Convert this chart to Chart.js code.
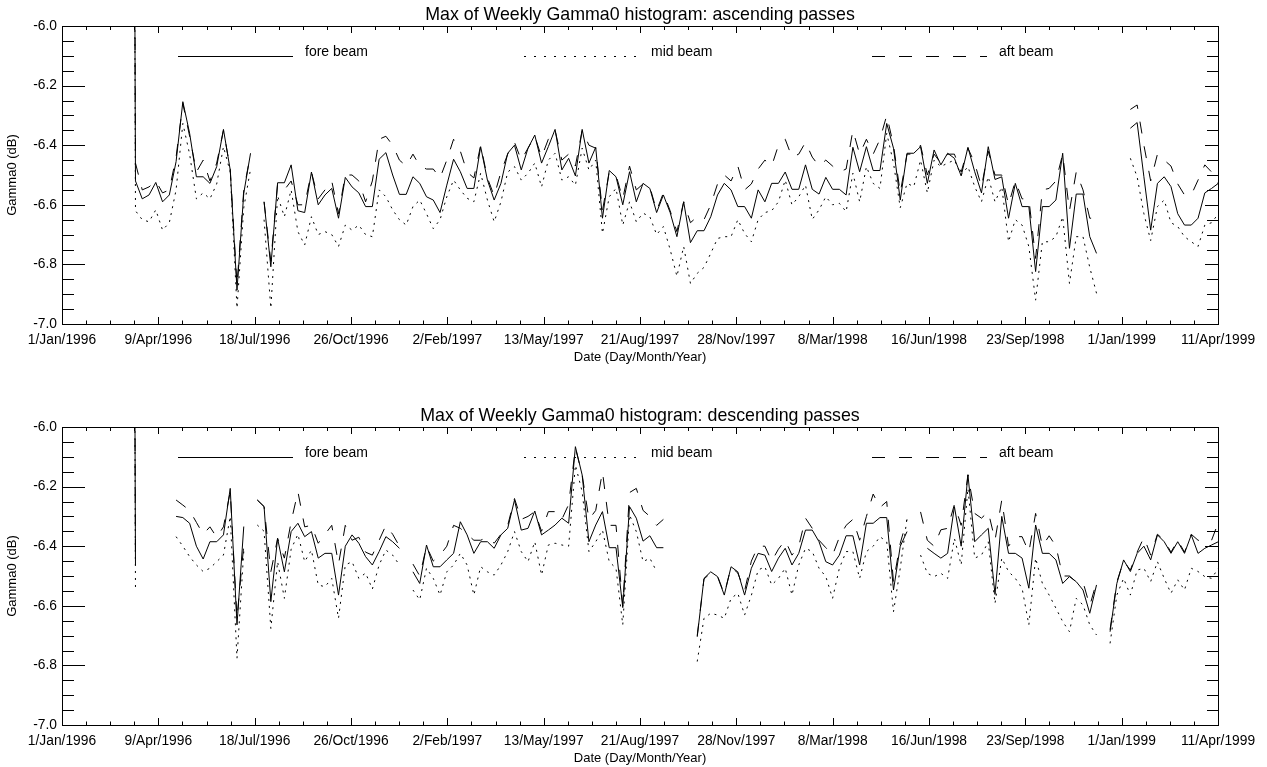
<!DOCTYPE html>
<html>
<head>
<meta charset="utf-8">
<script src="https://cdn.jsdelivr.net/npm/chart.js"></script>
<style>
  body { margin: 0; background: #fff; }
  #wrap { position: relative; width: 1267px; height: 767px; }
  canvas { position: absolute; left: 0; }
</style>
</head>
<body>
<div id="wrap">
  <canvas id="ascChart" width="1267" height="384" style="top:0"></canvas>
  <canvas id="descChart" width="1267" height="383" style="top:384px"></canvas>
</div>
<script>
// weekly maxima, one value per week starting at firstWeek (null = no data)
const axisStart = '1996-01-01';
const firstWeek = '1996-03-10';
const tickLabels = ['1/Jan/1996', '9/Apr/1996', '18/Jul/1996', '26/Oct/1996', '2/Feb/1997', '13/May/1997',
  '21/Aug/1997', '28/Nov/1997', '8/Mar/1998', '16/Jun/1998', '23/Sep/1998', '1/Jan/1999', '11/Apr/1999'];
const yTicks = [-7.0, -6.8, -6.6, -6.4, -6.2, -6.0];
const beamNames = ['fore beam', 'mid beam', 'aft beam'];

const ascFore = [
  0, -6.52, -6.58, -6.567, -6.525, -6.59, -6.567, -6.455, -6.254, -6.36,
  -6.506, -6.506, -6.528, -6.472, -6.347, -6.483, -6.886, -6.561, -6.427, null,
  -6.59, -6.808, -6.526, -6.526, -6.466, -6.62, -6.626, -6.49, -6.60, -6.567,
  -6.545, -6.645, -6.508, -6.54, -6.56, -6.606, -6.606, -6.447, -6.425, -6.50,
  -6.565, -6.565, -6.506, -6.528, -6.573, -6.584, -6.626, -6.534, -6.447, -6.489,
  -6.545, -6.545, -6.405, -6.517, -6.584, -6.528, -6.427, -6.40, -6.483, -6.41,
  -6.366, -6.46, -6.405, -6.347, -6.483, -6.444, -6.503, -6.347, -6.46, -6.407,
  -6.645, -6.485, -6.506, -6.60, -6.489, -6.59, -6.528, -6.545, -6.626, -6.567,
  -6.626, -6.707, -6.59, -6.727, -6.687, -6.687, -6.64, -6.567, -6.528, -6.55,
  -6.606, -6.606, -6.645, -6.55, -6.59, -6.528, -6.528, -6.49, -6.548, -6.548,
  -6.466, -6.548, -6.564, -6.508, -6.548, -6.548, -6.567, -6.407, -6.489, -6.405,
  -6.485, -6.485, -6.327, -6.41, -6.584, -6.427, -6.427, -6.405, -6.528, -6.416,
  -6.466, -6.427, -6.444, -6.503, -6.407, -6.489, -6.56, -6.405, -6.515, -6.506,
  -6.645, -6.528, -6.606, -6.606, -6.824, -6.606, -6.606, -6.584, -6.427, -6.746,
  -6.564, -6.564, -6.707, -6.763, null, null, null, null, -6.343, -6.324,
  -6.506, -6.685, -6.528, -6.506, -6.539, -6.63, -6.668, -6.668, -6.645, -6.56,
  -6.545, -6.528
];
const ascMid = [
  0, -6.62, -6.65, -6.657, -6.617, -6.685, -6.66, -6.55, -6.327, -6.43,
  -6.58, -6.56, -6.58, -6.53, -6.405, -6.49, -6.947, -6.61, -6.48, null,
  -6.65, -6.947, -6.57, -6.64, -6.55, -6.69, -6.735, -6.64, -6.70, -6.69,
  -6.70, -6.74, -6.668, -6.685, -6.668, -6.70, -6.707, -6.55, -6.573, -6.617,
  -6.65, -6.668, -6.606, -6.584, -6.63, -6.68, -6.65, -6.573, -6.517, -6.55,
  -6.578, -6.59, -6.494, -6.584, -6.657, -6.59, -6.49, -6.472, -6.517, -6.494,
  -6.46, -6.54, -6.45, -6.427, -6.517, -6.506, -6.534, -6.41, -6.483, -6.45,
  -6.696, -6.573, -6.545, -6.668, -6.59, -6.657, -6.628, -6.64, -6.70, -6.673,
  -6.75, -6.84, -6.74, -6.864, -6.83, -6.81, -6.763, -6.713, -6.707, -6.707,
  -6.65, -6.696, -6.724, -6.65, -6.626, -6.62, -6.59, -6.517, -6.60, -6.573,
  -6.534, -6.649, -6.617, -6.573, -6.60, -6.595, -6.623, -6.494, -6.59, -6.472,
  -6.528, -6.545, -6.36, -6.46, -6.61, -6.528, -6.539, -6.45, -6.56, -6.45,
  -6.472, -6.46, -6.45, -6.50, -6.472, -6.539, -6.59, -6.506, -6.59, -6.54,
  -6.724, -6.65, -6.668, -6.74, -6.92, -6.724, -6.724, -6.707, -6.64, -6.864,
  -6.707, -6.707, -6.81, -6.897, null, null, null, null, -6.444, -6.506,
  -6.63, -6.72, -6.606, -6.584, -6.66, -6.673, -6.707, -6.724, -6.74, -6.668,
  -6.66, -6.63
];
const ascAft = [
  0, -6.46, -6.55, -6.54, -6.52, -6.56, -6.55, -6.44, -6.26, -6.37,
  -6.49, -6.45, -6.52, -6.46, -6.35, -6.48, -6.87, -6.55, -6.43, null,
  -6.59, -6.79, -6.53, -6.55, -6.52, -6.60, -6.60, -6.49, -6.58, -6.55,
  -6.52, -6.63, -6.50, -6.50, -6.52, -6.59, -6.52, -6.38, -6.37, -6.40,
  -6.45, -6.47, -6.43, -6.47, -6.48, -6.48, -6.51, -6.45, -6.38, -6.42,
  -6.49, -6.51, -6.40, -6.51, -6.57, -6.49, -6.43, -6.39, -6.45, -6.41,
  -6.37, -6.44, -6.38, -6.35, -6.45, -6.43, -6.47, -6.35, -6.40, -6.41,
  -6.62, -6.49, -6.50, -6.58, -6.47, -6.55, -6.53, -6.54, -6.62, -6.56,
  -6.62, -6.69, -6.59, -6.66, -6.64, -6.65, -6.60, -6.53, -6.50, -6.52,
  -6.47, -6.55, -6.53, -6.48, -6.45, -6.47, -6.40, -6.38, -6.44, -6.43,
  -6.39, -6.44, -6.47, -6.45, -6.47, -6.49, -6.48, -6.35, -6.43, -6.38,
  -6.43, -6.38, -6.30, -6.40, -6.56, -6.43, -6.43, -6.40, -6.50, -6.43,
  -6.46, -6.43, -6.43, -6.49, -6.41, -6.46, -6.54, -6.42, -6.50, -6.50,
  -6.60, -6.52, -6.58, -6.58, -6.78, -6.55, -6.545, -6.52, -6.43, -6.62,
  -6.49, -6.55, -6.645, -6.645, null, null, null, null, -6.28, -6.265,
  -6.40, -6.52, -6.43, -6.45, -6.47, -6.53, -6.567, -6.567, -6.517, -6.466,
  -6.49, -6.53
];

const descFore = [
  0, -6.463, null, null, null, null, null, -6.30, -6.304, -6.323,
  -6.40, -6.443, -6.385, -6.385, -6.362, -6.206, -6.664, -6.334, null, -6.245,
  -6.267, -6.586, -6.374, -6.486, -6.351, -6.323, -6.368, -6.351, -6.44, -6.424,
  -6.424, -6.564, -6.40, -6.362, -6.39, -6.435, -6.463, -6.418, -6.368, -6.385,
  -6.407, null, -6.486, -6.525, -6.396, -6.469, -6.469, -6.446, -6.424, -6.318,
  -6.362, -6.424, -6.385, -6.385, -6.407, -6.362, -6.34, -6.245, -6.346, -6.34,
  -6.282, -6.362, -6.346, -6.329, -6.306, -6.323, -6.066, -6.161, -6.385, -6.329,
  -6.284, -6.405, -6.405, -6.606, -6.267, -6.306, -6.383, -6.365, -6.405, -6.405,
  null, null, null, null, -6.704, -6.508, -6.486, -6.502, -6.564, -6.469,
  -6.486, -6.564, -6.474, -6.424, -6.43, -6.485, -6.44, -6.407, -6.463, -6.424,
  -6.346, -6.346, -6.385, -6.452, -6.463, -6.43, -6.365, -6.365, -6.463, -6.323,
  -6.323, -6.304, -6.304, -6.547, -6.40, -6.351, null, null, -6.407, -6.424,
  -6.44, -6.424, -6.267, -6.40, -6.161, -6.385, -6.362, -6.34, -6.562, -6.30,
  -6.424, -6.424, -6.44, -6.541, -6.329, -6.424, -6.424, -6.446, -6.525, -6.502,
  -6.519, -6.547, -6.625, -6.53, null, -6.687, -6.525, -6.446, -6.485, -6.424,
  -6.40, -6.446, -6.362, -6.385, -6.424, -6.385, -6.424, -6.362, -6.424, -6.407,
  -6.396, -6.385
];
const descMid = [
  0, -6.553, null, null, null, null, null, -6.368, -6.40, -6.435,
  -6.463, -6.485, -6.474, -6.452, -6.43, -6.30, -6.776, -6.418, null, -6.329,
  -6.35, -6.676, -6.452, -6.575, -6.41, -6.36, -6.452, -6.413, -6.53, -6.536,
  -6.508, -6.642, -6.463, -6.452, -6.508, -6.49, -6.544, -6.463, -6.413, -6.43,
  -6.463, null, -6.547, -6.58, -6.474, -6.508, -6.564, -6.486, -6.463, -6.424,
  -6.463, -6.564, -6.469, -6.486, -6.497, -6.463, -6.418, -6.351, -6.418, -6.452,
  -6.385, -6.497, -6.396, -6.39, -6.396, -6.40, -6.128, -6.217, -6.418, -6.385,
  -6.346, -6.452, -6.474, -6.664, -6.295, -6.351, -6.452, -6.44, -6.485, null,
  null, null, null, null, -6.787, -6.642, -6.625, -6.631, -6.642, -6.575,
  -6.558, -6.631, -6.565, -6.48, -6.469, -6.53, -6.508, -6.474, -6.564, -6.463,
  -6.407, -6.418, -6.474, -6.502, -6.575, -6.474, -6.418, -6.418, -6.508, -6.418,
  -6.40, -6.368, -6.385, -6.62, -6.474, -6.306, null, -6.43, -6.491, -6.502,
  -6.491, -6.508, -6.374, -6.463, -6.206, -6.44, -6.43, -6.385, -6.592, -6.44,
  -6.485, -6.508, -6.541, -6.664, -6.44, -6.525, -6.564, -6.608, -6.653, -6.687,
  -6.575, -6.597, -6.664, -6.698, null, -6.726, -6.564, -6.508, -6.564, -6.48,
  -6.474, -6.519, -6.452, -6.508, -6.558, -6.513, -6.547, -6.474, -6.485, -6.502,
  -6.508, -6.474
];
const descAft = [
  0, -6.45, null, null, null, null, null, -6.245, -6.262, -6.28,
  -6.32, -6.36, -6.335, -6.37, -6.335, -6.217, -6.642, -6.396, null, -6.245,
  -6.267, -6.486, -6.374, -6.44, -6.318, -6.217, -6.335, -6.33, -6.39, -6.36,
  -6.33, -6.46, -6.33, -6.38, -6.37, -6.42, -6.43, -6.38, -6.33, -6.36,
  -6.40, null, -6.46, -6.50, -6.40, -6.45, -6.43, -6.40, -6.33, -6.34,
  -6.36, -6.38, -6.38, -6.37, -6.39, -6.36, -6.33, -6.24, -6.31, -6.30,
  -6.284, -6.35, -6.284, -6.284, -6.31, -6.26, -6.07, -6.16, -6.31, -6.28,
  -6.15, -6.33, -6.33, -6.60, -6.22, -6.206, -6.28, -6.30, -6.33, -6.31,
  null, null, null, null, -6.70, -6.51, -6.49, -6.50, -6.56, -6.47,
  -6.49, -6.55, -6.45, -6.40, -6.40, -6.45, -6.41, -6.38, -6.43, -6.40,
  -6.306, -6.34, -6.38, -6.405, -6.43, -6.37, -6.33, -6.31, -6.38, -6.30,
  -6.225, -6.27, -6.25, -6.52, -6.39, -6.31, null, -6.285, -6.38, -6.40,
  -6.345, -6.34, -6.26, -6.33, -6.16, -6.29, -6.306, -6.284, -6.38, -6.245,
  -6.40, -6.368, -6.368, -6.42, -6.29, -6.40, -6.365, -6.40, -6.50, -6.50,
  -6.52, -6.52, -6.60, -6.52, null, -6.68, -6.52, -6.45, -6.48, -6.42,
  -6.37, -6.43, -6.36, -6.38, -6.42, -6.38, -6.42, -6.36, -6.38, -6.385,
  -6.38, -6.32
];

const DAY = 86400000;
const startDay = (Date.parse(firstWeek) - Date.parse(axisStart)) / DAY;
// ticks land on 11 equal steps from 1/Jan/1996 to 1/Jan/1999
const tickStep = (Date.parse('1999-01-01') - Date.parse(axisStart)) / DAY / 11;
const FONT = '"Liberation Sans", Arial, Helvetica, sans-serif';
const dashes = [[], [2, 5], [12, 13]];
const legendDashes = [[], [2, 8], [13, 14]];

function toPoints(values) {
  return values.map((v, i) => ({ x: startDay + 7 * i, y: v }));
}

// axes box with inward ticks, title, legend and axis titles
const framePlugin = {
  id: 'frame',
  afterDraw(chart, args, opts) {
    const { ctx, chartArea: a, scales: { x, y } } = chart;
    const px = v => Math.round(v) + 0.5;
    ctx.save();
    ctx.strokeStyle = '#000';
    ctx.fillStyle = '#000';
    ctx.lineWidth = 1;
    ctx.setLineDash([]);
    ctx.strokeRect(px(a.left), px(a.top), Math.round(a.right) - Math.round(a.left), Math.round(a.bottom) - Math.round(a.top));

    ctx.beginPath();
    for (let k = 0; k <= 48; k++) {
      const xx = px(x.getPixelForValue(k * tickStep / 4));
      const major = k % 4 === 0;
      ctx.moveTo(xx, a.bottom); ctx.lineTo(xx, a.bottom - (major ? 7 : 3.5));
      ctx.moveTo(xx, a.top); ctx.lineTo(xx, a.top + (major ? 7 : 4));
    }
    for (let k = 0; k <= 20; k++) {
      const yy = px(y.getPixelForValue(-7 + k * 0.05));
      const major = k % 4 === 0;
      ctx.moveTo(a.left, yy); ctx.lineTo(a.left + (major ? 23 : 12), yy);
      ctx.moveTo(a.right, yy); ctx.lineTo(a.right - (major ? 13 : 11), yy);
    }
    ctx.stroke();

    const cx = (a.left + a.right) / 2;
    ctx.textAlign = 'center';
    ctx.textBaseline = 'alphabetic';
    ctx.font = '17.8px ' + FONT;
    ctx.fillText(opts.title, cx, a.top - 6);

    ctx.font = '13px ' + FONT;
    ctx.fillText('Date (Day/Month/Year)', cx, a.bottom + 37);

    ctx.save();
    ctx.translate(16, (a.top + a.bottom) / 2);
    ctx.rotate(-Math.PI / 2);
    ctx.fillText('Gamma0 (dB)', 0, 0);
    ctx.restore();

    // legend inside the plot at -6.1 dB
    const ly = px(y.getPixelForValue(-6.1));
    const starts = [116, 462, 810];
    ctx.font = '14px ' + FONT;
    ctx.textAlign = 'left';
    beamNames.forEach((name, i) => {
      const x0 = a.left + starts[i];
      ctx.setLineDash(legendDashes[i]);
      ctx.beginPath();
      ctx.moveTo(x0, ly); ctx.lineTo(x0 + 115, ly);
      ctx.stroke();
      ctx.fillText(name, x0 + 127, ly - 1);
    });
    ctx.restore();
  }
};

function makeChart(id, title, fore, mid, aft, padTop, axisHeight) {
  const series = [fore, mid, aft];
  return new Chart(document.getElementById(id), {
    type: 'line',
    data: {
      datasets: series.map((vals, i) => ({
        label: beamNames[i],
        data: toPoints(vals),
        borderColor: '#000',
        borderWidth: 1,
        borderDash: dashes[i],
        pointRadius: 0,
        tension: 0,
        spanGaps: false
      }))
    },
    options: {
      responsive: false,
      animation: false,
      events: [],
      layout: { padding: { top: padTop, right: 49, left: 0, bottom: 0 } },
      plugins: {
        legend: { display: false },
        tooltip: { enabled: false },
        frame: { title: title }
      },
      scales: {
        x: {
          type: 'linear',
          min: 0,
          max: tickStep * 12,
          grid: { display: false, drawTicks: false },
          border: { display: false },
          afterBuildTicks: s => { s.ticks = tickLabels.map((_, k) => ({ value: k * tickStep })); },
          afterFit: s => { s.height = axisHeight; },
          ticks: {
            autoSkip: false,
            maxRotation: 0,
            padding: 8,
            color: '#000',
            font: { family: FONT, size: 13.8 },
            callback: (v, i) => tickLabels[i]
          }
        },
        y: {
          min: -7,
          max: -6,
          grid: { display: false, drawTicks: false },
          border: { display: false },
          afterBuildTicks: s => { s.ticks = yTicks.map(v => ({ value: v })); },
          afterFit: s => { s.width = 62; },
          ticks: {
            padding: 5,
            color: '#000',
            font: { family: FONT, size: 13.8 },
            callback: v => v.toFixed(1)
          }
        }
      }
    },
    plugins: [framePlugin]
  });
}

makeChart('ascChart', 'Max of Weekly Gamma0 histogram: ascending passes', ascFore, ascMid, ascAft, 26, 60);
makeChart('descChart', 'Max of Weekly Gamma0 histogram: descending passes', descFore, descMid, descAft, 43, 42);
</script>
</body>
</html>
